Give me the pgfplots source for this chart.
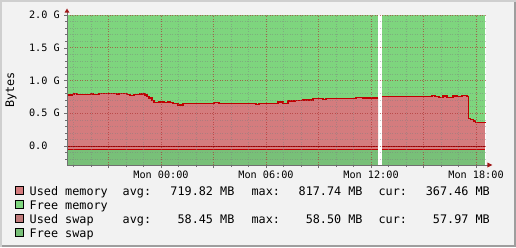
\documentclass[border=0pt]{standalone}
\usepackage{fontspec}
\setmainfont{DejaVu Sans Mono}
\usepackage{pgfplots}
\pgfplotsset{compat=1.18}
\usepackage{pgfplotstable}

\definecolor{bgc}{HTML}{F2F2F2}
\definecolor{shadea}{HTML}{CFCFCF}
\definecolor{shadeb}{HTML}{9E9E9E}
\definecolor{usedmem}{HTML}{D47C7E}
\definecolor{freemem}{HTML}{7ED57E}
\definecolor{usedswap}{HTML}{C07A7A}
\definecolor{freeswap}{HTML}{78C078}
\definecolor{linered}{HTML}{C00000}
\definecolor{arrowred}{HTML}{A01818}
\definecolor{axisgray}{HTML}{707070}

% Used memory (GiB) vs hours from Mon 00:00, segment before the gap
\pgfplotstableread{
h v
-5.371 0.779
-5.09 0.786
-4.97 0.798
-4.80 0.789
-4.00 0.798
-3.89 0.789
-3.54 0.798
-2.51 0.789
-2.40 0.798
-1.94 0.789
-1.77 0.768
-1.54 0.783
-1.20 0.794
-0.91 0.779
-0.80 0.756
-0.69 0.733
-0.51 0.695
-0.40 0.664
-0.11 0.672
0.06 0.676
0.17 0.661
0.40 0.672
0.51 0.667
0.69 0.652
0.97 0.626
1.26 0.652
3.03 0.667
3.31 0.652
5.43 0.637
5.60 0.652
6.69 0.672
6.97 0.652
7.26 0.687
7.66 0.698
8.11 0.702
8.69 0.728
9.26 0.713
9.43 0.722
11.14 0.744
11.54 0.733
12.40 0.733
}\usedA
% segment after the gap
\pgfplotstableread{
h v
12.63 0.753
15.49 0.768
15.66 0.753
15.89 0.744
16.11 0.763
16.34 0.744
16.69 0.763
16.91 0.753
17.20 0.768
17.49 0.753
17.56 0.423
17.70 0.408
17.85 0.382
17.99 0.362
18.51 0.359
}\usedB

\begin{document}
\begin{tikzpicture}[x=1bp,y=1bp]
\useasboundingbox (0,0) rectangle (516,247);
\fill[bgc] (0,0) rectangle (516,247);
\fill[shadea] (0,0) rectangle (2,247);
\fill[shadea] (0,245) rectangle (516,247);
\fill[shadeb] (2,0) rectangle (516,2);
\fill[shadeb] (514,0) rectangle (516,245);

\begin{axis}[
  at={(67bp,82bp)}, anchor=south west,
  scale only axis, width=419bp, height=150bp,
  xmin=-5.371, xmax=18.571, ymin=-0.290, ymax=2.0,
  axis background/.style={fill=white},
  axis x line*=bottom, axis y line*=left,
  axis line style={draw=axisgray, line width=0.6bp},
  axis on top,
  tick align=outside,
  major tick length=3bp, minor tick length=2bp,
  every tick/.style={draw=axisgray, line width=0.5bp},
  xtick={-3,0,3,6,9,12,15,18},
  xticklabels={,Mon 00:00,,Mon 06:00,,Mon 12:00,,Mon 18:00},
  minor xtick={-5,-4,...,18},
  ytick={0,0.5,1.0,1.5,2.0},
  yticklabels={0.0\phantom{XX},0.5 G,1.0 G,1.5 G,2.0 G},
  minor ytick={-0.2,-0.1,...,2.0},
  grid=both,
  major grid style={draw=red!80!black, opacity=0.4, line width=0.6bp, dash pattern=on 1bp off 1.5bp},
  minor grid style={draw=gray, opacity=0.45, line width=0.6bp, dash pattern=on 1bp off 1.5bp},
  ticklabel style={font=\fontsize{10.2bp}{12bp}\selectfont, text=black},
  xticklabel style={anchor=north, inner sep=0pt, yshift=-3bp},
  yticklabel style={anchor=east, inner sep=0pt, xshift=-4bp},
  ylabel={Bytes},
  ylabel style={at={(axis description cs:-0.1337,0.5)}, anchor=center, font=\fontsize{11.8bp}{14bp}\selectfont},
  clip=true,
]
% free swap (below zero)
\addplot[fill=freeswap, draw=none] coordinates {(-5.371,-1) (12.40,-1)} \closedcycle;
\addplot[fill=freeswap, draw=none] coordinates {(12.63,-1) (18.51,-1)} \closedcycle;
% used swap
\addplot[fill=usedmem, draw=none] coordinates {(-5.371,-0.057) (12.40,-0.057)} \closedcycle;
\addplot[fill=usedmem, draw=none] coordinates {(12.63,-0.057) (18.51,-0.057)} \closedcycle;
% free memory (stacked up to total)
\addplot[fill=freemem, draw=none] coordinates {(-5.371,2.0) (12.40,2.0)} \closedcycle;
\addplot[fill=freemem, draw=none] coordinates {(12.63,2.0) (18.51,2.0)} \closedcycle;
% used memory
\addplot[fill=usedmem, draw=none, const plot mark left] table[x=h,y=v] {\usedA} \closedcycle;
\addplot[fill=usedmem, draw=none, const plot mark left] table[x=h,y=v] {\usedB} \closedcycle;
\addplot[draw=linered, line width=1.2bp, const plot mark left] table[x=h,y=v] {\usedA};
\addplot[draw=linered, line width=1.2bp, const plot mark left] table[x=h,y=v] {\usedB};
% swap lines
\addplot[draw=linered!80!black, line width=0.6bp] coordinates {(-5.371,0) (12.40,0)};
\addplot[draw=linered!80!black, line width=0.6bp] coordinates {(12.63,0) (18.51,0)};
\addplot[draw=linered, line width=0.9bp] coordinates {(-5.371,-0.057) (12.40,-0.057)};
\addplot[draw=linered, line width=0.9bp] coordinates {(12.63,-0.057) (18.51,-0.057)};
\end{axis}

% axis arrows
\draw[axisgray, line width=0.6bp] (67,232) -- (67,234.5);
\fill[arrowred] (64.5,234.3) -- (69.5,234.3) -- (67,238.5) -- cycle;
\draw[axisgray, line width=0.6bp] (486,82) -- (487.5,82);
\fill[arrowred] (487.3,84.5) -- (487.3,79.5) -- (492.3,82) -- cycle;

% legend
\begin{scope}[every node/.style={inner sep=0pt, font=\fontsize{11.8bp}{14bp}\selectfont}]
\foreach \yy/\col in {52/usedmem, 38/freemem, 24/usedswap, 10/freeswap}{
  \filldraw[fill=\col, draw=black, line width=0.7bp] (15.5,\yy+0.5) rectangle (23.8,\yy+8.5);
}
\node[anchor=base west] at (29.5,52) {Used memory};
\node[anchor=base west] at (122.5,52) {avg:};
\node[anchor=base east] at (234.6,52) {719.82 MB};
\node[anchor=base west] at (251.4,52) {max:};
\node[anchor=base east] at (362.8,52) {817.74 MB};
\node[anchor=base west] at (378.4,52) {cur:};
\node[anchor=base east] at (490,52) {367.46 MB};
\node[anchor=base west] at (29.5,38) {Free memory};
\node[anchor=base west] at (29.5,24) {Used swap};
\node[anchor=base west] at (122.5,24) {avg:};
\node[anchor=base east] at (234.6,24) {58.45 MB};
\node[anchor=base west] at (251.4,24) {max:};
\node[anchor=base east] at (362.8,24) {58.50 MB};
\node[anchor=base west] at (378.4,24) {cur:};
\node[anchor=base east] at (490,24) {57.97 MB};
\node[anchor=base west] at (29.5,10) {Free swap};
\end{scope}
\end{tikzpicture}
\end{document}
